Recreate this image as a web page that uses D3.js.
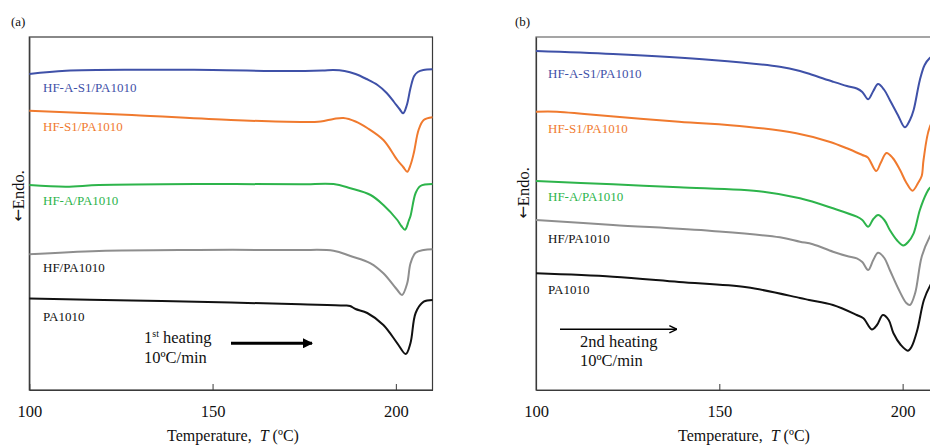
<!DOCTYPE html>
<html>
<head>
<meta charset="utf-8">
<script src="https://cdn.jsdelivr.net/npm/d3@7"></script>
<style>
  html, body { margin: 0; padding: 0; background: #fff; }
  svg { display: block; font-family: "Liberation Serif", "Times New Roman", serif; }
</style>
</head>
<body>
<svg id="chart" width="930" height="445"></svg>
<script>
// ---------------- DATA ----------------
const xTicks = [100, 150, 200];
const seriesNames = ["HF-A-S1/PA1010", "HF-S1/PA1010", "HF-A/PA1010", "HF/PA1010", "PA1010"];
const seriesColors = ["#3f51a8", "#f07a2e", "#2db44b", "#8e8e8e", "#111111"];
const labelColors = ["#3f51a8", "#f07a2e", "#2db44b", "#111111", "#111111"];

// Panel (a): 1st heating, [T (°C), heat flow (arb. units)]
const a_HF_A_S1 = [[100,31.6],[110,31.92],[130,32.02],[150,32.0],[170,31.9],[180,31.95],[183,32.0],[186,31.9],[189,31.6],[192,31.1],[195,30.5],[197.5,29.7],[199.5,28.8],[201,28.1],[202,27.67],[203,28.5],[204,30.2],[205,31.4],[206,31.8],[207.5,32.0],[210,32.07]];
const a_HF_S1 = [[100,27.93],[128,27.5],[155,27.0],[174,26.8],[179.5,26.85],[183,27.1],[185.7,27.2],[189,26.85],[192.2,26.2],[196.6,25.0],[200.4,23.0],[202,22.3],[203.1,21.83],[204,22.5],[204.9,23.7],[206.2,26.0],[207.6,27.0],[210,27.27]];
const a_HF_A = [[100,20.5],[110,20.33],[119,20.5],[146,20.6],[174,20.57],[183,20.6],[187.6,20.17],[193.1,19.5],[196.6,18.5],[200.4,17.0],[201.5,16.4],[202.5,16.02],[203.5,16.9],[204,17.4],[205.4,19.7],[206.7,20.4],[210,20.6]];
const a_HF = [[100,13.57],[119,13.9],[146,14.0],[173,14.0],[183,13.93],[187.6,13.4],[193.1,12.67],[196.6,11.67],[200.4,10.0],[201.7,9.5],[203.1,10.67],[204,12.67],[205.4,13.73],[207.6,14.0],[210,14.07]];
const a_PA1010 = [[100,9.15],[128,8.95],[155,8.75],[174,8.57],[186,8.45],[187.5,8.4],[189,8.1],[192.2,7.7],[196.6,6.5],[200.4,4.67],[202.7,3.6],[204,4.7],[205.4,7.7],[207.6,8.83],[210,9.0]];

// Panel (b): 2nd heating
const b_HF_A_S1 = [[100,33.9],[121,33.6],[148,33.0],[166.5,32.33],[172,31.9],[175.5,31.5],[181,30.83],[184.8,30.4],[187.5,30.15],[189,29.8],[190.6,29.07],[192,29.9],[193.3,30.6],[195,30.0],[196.5,29.0],[198.7,27.5],[200.6,26.27],[202,27.0],[203,28.0],[204.7,31.0],[206,32.5],[207.4,33.2],[210,33.8]];
const b_HF_S1 = [[100,27.83],[105.7,27.83],[114,27.57],[139,26.83],[157.5,26.33],[171,25.67],[180,24.83],[184.8,24.17],[189,23.5],[190.5,23.25],[192.8,21.9],[194,22.7],[195.6,23.7],[197.3,23.2],[199.3,22.0],[200.9,20.8],[202.7,19.93],[204.2,20.7],[205.2,21.4],[205.7,23.0],[207.4,26.3],[210,27.8]];
const b_HF_A = [[100,20.9],[121,20.57],[139,20.27],[162,19.83],[172,19.17],[181,18.17],[187.5,17.33],[189,17.0],[190.6,16.33],[192,17.1],[193.3,17.5],[195,17.0],[196.5,16.0],[198.4,15.0],[200.2,14.45],[201.5,14.8],[203,15.67],[204.7,18.0],[206.5,19.67],[207.4,20.2],[210,20.8]];
const b_HF = [[100,17.0],[121,16.5],[148,15.9],[166.5,15.27],[172,14.83],[175.5,14.57],[181,13.83],[184.8,13.4],[187.5,13.17],[189,12.8],[190.6,12.0],[192,13.0],[193.3,13.73],[195,13.2],[196.5,12.0],[199,10.0],[201,8.7],[202,8.5],[203.4,9.67],[205.2,13.33],[207.4,15.33],[210,16.8]];
const b_PA1010 = [[100,11.67],[121,11.33],[139,10.8],[157.5,10.27],[172,9.2],[174.5,9.0],[181,8.5],[187.5,7.5],[189.3,7.17],[191.6,6.05],[193,6.5],[194.6,7.5],[196.2,7.0],[197.5,5.67],[199.5,4.5],[201.4,3.93],[202.4,4.3],[204,6.0],[205.8,9.0],[207.6,10.5],[210,11.8]];

// label anchor values (arb. units, same scale as the curves)
const a_labelY = [29.8, 25.9, 18.5, 11.8, 6.9];
const b_labelY = [31.2, 25.7, 18.9, 14.7, 9.6];

// ---------------- DRAW ----------------
const svg = d3.select("#chart");

function panel(cfg) {
  const x = d3.scaleLinear().domain([100, 210]).range([cfg.left, cfg.right]);
  const y = d3.scaleLinear().domain([0, 35.3]).range([390, 37]);
  const g = svg.append("g");

  // frame
  g.append("rect")
    .attr("x", cfg.left).attr("y", y(35.3))
    .attr("width", cfg.right - cfg.left).attr("height", y(0) - y(35.3))
    .attr("fill", "none").attr("stroke", cfg.frame).attr("stroke-width", 1.2);

  // x axis
  const ax = g.append("g").attr("transform", `translate(0,${y(0)})`)
    .call(d3.axisBottom(x).tickValues(xTicks).tickSizeInner(-6).tickSizeOuter(0).tickPadding(15).tickFormat(d3.format("d")));
  ax.select(".domain").attr("stroke", "#3a3a3a").attr("stroke-width", 1.2);
  ax.selectAll(".tick line").attr("stroke", "#3a3a3a").attr("stroke-width", 1);
  ax.selectAll(".tick text").attr("font-size", 16.5).attr("fill", "#111")
    .attr("font-family", "Liberation Serif, serif");

  // y axis (no ticks)
  g.append("g").attr("transform", `translate(${cfg.left},0)`)
    .call(d3.axisLeft(y).tickValues([]).tickSizeOuter(0))
    .select(".domain").attr("stroke", "#3a3a3a").attr("stroke-width", 1.2);

  // curves
  const line = d3.line().x(d => x(d[0])).y(d => y(d[1])).curve(d3.curveCatmullRom.alpha(0.5));
  cfg.series.forEach((s, i) => {
    g.append("path").datum(s).attr("d", line)
      .attr("fill", "none").attr("stroke", seriesColors[i]).attr("stroke-width", 2)
      .attr("stroke-linejoin", "round");
  });

  // series labels
  cfg.labelY.forEach((v, i) => {
    g.append("text").attr("x", cfg.labelX).attr("y", y(v))
      .attr("font-size", 13).attr("fill", labelColors[i]).text(seriesNames[i]);
  });

  // y label
  const yl = g.append("text")
    .attr("transform", `translate(${cfg.yLabelX},${cfg.yLabelCY}) rotate(-90)`)
    .attr("text-anchor", "middle").attr("dominant-baseline", "central")
    .attr("font-size", 16.5).attr("fill", "#111");
  yl.append("tspan").attr("font-family", "DejaVu Sans").attr("font-size", 15).text("\u2190");
  yl.append("tspan").text("Endo.");

  // x title
  const t = g.append("text").attr("x", cfg.titleX).attr("y", 441)
    .attr("text-anchor", "middle").attr("font-size", 16).attr("fill", "#111");
  t.append("tspan").text("Temperature,\u00a0\u00a0");
  t.append("tspan").attr("font-style", "italic").text("T");
  t.append("tspan").text(" (\u00baC)");

  // panel letter
  svg.append("text").attr("x", cfg.letterX).attr("y", 26)
    .attr("font-size", 13).attr("fill", "#111").text(cfg.letter);
  return { x, y, g };
}

const A = panel({
  left: 29.3, right: 432.5, labelX: 43, frame: "#3a3a3a",
  series: [a_HF_A_S1, a_HF_S1, a_HF_A, a_HF, a_PA1010],
  labelY: a_labelY, yLabelX: 18, yLabelCY: 196, titleX: 233,
  letter: "(a)", letterX: 11
});
const B = panel({
  left: 536, right: 939.3, labelX: 548, frame: "#6a6a6a",
  series: [b_HF_A_S1, b_HF_S1, b_HF_A, b_HF, b_PA1010],
  labelY: b_labelY, yLabelX: 522.5, yLabelCY: 193, titleX: 744,
  letter: "(b)", letterX: 515
});

// ---- annotations ----
const defs = svg.append("defs");
defs.append("marker").attr("id", "headA").attr("viewBox", "0 0 10 10")
  .attr("refX", 9).attr("refY", 5).attr("markerUnits", "userSpaceOnUse")
  .attr("markerWidth", 10).attr("markerHeight", 10).attr("orient", "auto")
  .append("path").attr("d", "M0,0 L10,5 L0,10 Z").attr("fill", "#000");
defs.append("marker").attr("id", "headB").attr("viewBox", "0 0 10 10")
  .attr("refX", 9.5).attr("refY", 5).attr("markerUnits", "userSpaceOnUse")
  .attr("markerWidth", 9).attr("markerHeight", 9).attr("orient", "auto")
  .append("path").attr("d", "M1,1 L9.5,5 L1,9").attr("fill", "none")
  .attr("stroke", "#000").attr("stroke-width", 1.6);

// (a) 1st heating
const ta = svg.append("text").attr("x", 144).attr("y", 343).attr("font-size", 16.5).attr("fill", "#111");
ta.append("tspan").text("1");
ta.append("tspan").attr("font-size", 10).attr("dy", -6).text("st");
ta.append("tspan").attr("dy", 6).text(" heating");
svg.append("text").attr("x", 144).attr("y", 363).attr("font-size", 16.5).attr("fill", "#111")
  .text("10\u00baC/min");
svg.append("line").attr("x1", 231).attr("y1", 343.3).attr("x2", 312).attr("y2", 343.3)
  .attr("stroke", "#000").attr("stroke-width", 3).attr("marker-end", "url(#headA)");

// (b) 2nd heating
svg.append("line").attr("x1", 560).attr("y1", 329.3).attr("x2", 677).attr("y2", 329.3)
  .attr("stroke", "#000").attr("stroke-width", 1.5).attr("marker-end", "url(#headB)");
svg.append("text").attr("x", 580).attr("y", 347).attr("font-size", 16.5).attr("fill", "#111").text("2nd heating");
svg.append("text").attr("x", 580).attr("y", 366).attr("font-size", 16.5).attr("fill", "#111").text("10\u00baC/min");
</script>
</body>
</html>
